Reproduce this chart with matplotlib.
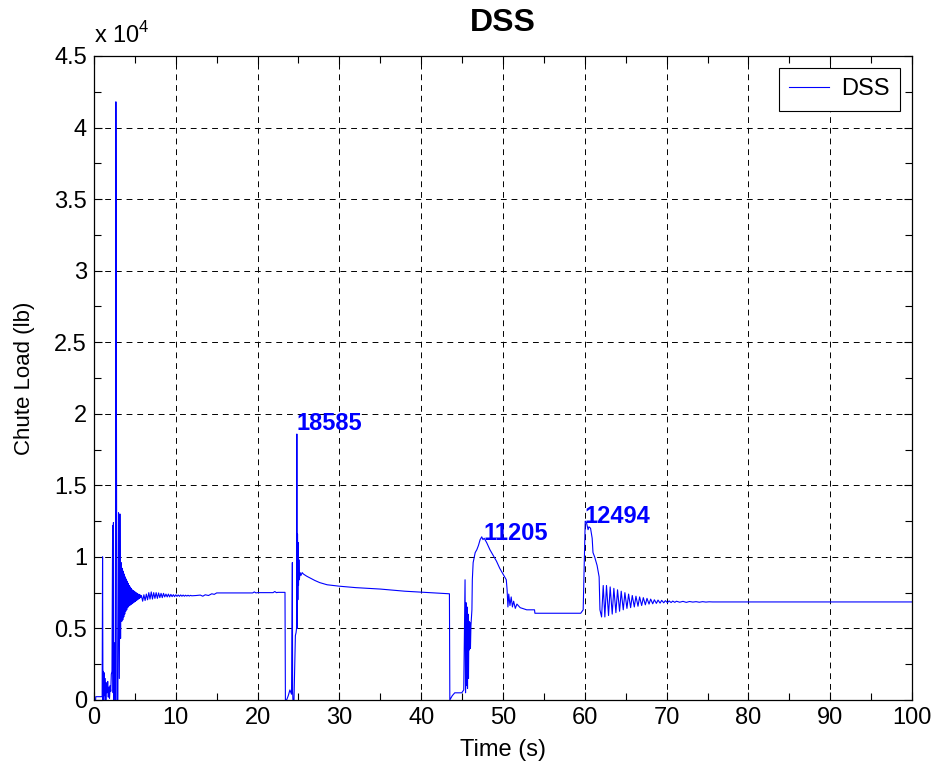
import numpy as np
import matplotlib
matplotlib.use('Agg')
import matplotlib.pyplot as plt
from matplotlib.ticker import MultipleLocator, FuncFormatter

plt.rcParams['font.family'] = ['Liberation Sans', 'DejaVu Sans']
plt.rcParams['mathtext.fontset'] = 'custom'
plt.rcParams['mathtext.rm'] = 'Liberation Sans'

# --- data: time (s), chute load (lb) ---
# first opening, 0 - 12 s
t_open1 = [0.0, 0.2, 0.22, 1.0, 1.05, 1.1, 1.15, 1.2, 1.25, 1.3, 1.38, 1.45, 1.52, 1.6,
           1.68, 1.75, 1.82, 1.9, 1.98, 2.05, 2.12, 2.2, 2.28, 2.34, 2.38, 2.42, 2.46,
           2.5, 2.56, 2.62, 2.68, 2.72, 2.8, 2.92, 3.0, 3.1, 3.17, 3.25, 3.32, 3.4]
load_open1 = [0, 0, 230, 230, 10000, 0, 2000, 0, 1900, 300, 1500, 0, 1200, 500,
              1300, 200, 900, 100, 1000, 600, 1800, 2000, 12200, 500, 12400, 0, 3000,
              1000, 4000, 0, 41800, 30000, 0, 0, 13100, 1500, 13000, 4300, 9600, 5500]

t_ring1 = [3.46, 3.52, 3.58, 3.64, 3.70, 3.76, 3.82, 3.88, 3.94, 4.00, 4.06, 4.12, 4.18,
           4.24, 4.30, 4.36, 4.42, 4.48, 4.54, 4.60, 4.66, 4.72, 4.78, 4.84, 4.90, 4.96,
           5.02, 5.08, 5.14, 5.20, 5.26, 5.32, 5.38, 5.44, 5.50, 5.56, 5.62, 5.70, 5.80,
           5.95, 6.10, 6.25, 6.40, 6.55, 6.70, 6.85, 7.00, 7.15, 7.30, 7.45, 7.60, 7.75,
           7.90, 8.05, 8.20, 8.35, 8.50, 8.65, 8.80, 8.95, 9.10, 9.25, 9.40, 9.55, 9.70,
           9.85, 10.0, 10.15, 10.3, 10.45, 10.6, 10.75, 10.9, 11.05, 11.2, 11.35, 11.5,
           11.65, 11.8, 11.95]
load_ring1 = [9200, 5600, 9000, 5800, 8800, 6000, 8600, 6200, 8450, 6300, 8300, 6450, 8150,
              6550, 8000, 6600, 7900, 6650, 7800, 6700, 7700, 6750, 7650, 6800, 7600, 6850,
              7550, 6900, 7500, 6950, 7450, 7000, 7400, 7050, 7380, 7100, 7350, 7150, 7300,
              6900, 7350, 6950, 7400, 7000, 7500, 7050, 7550, 7050, 7500, 7100, 7500, 7100,
              7480, 7150, 7450, 7150, 7450, 7200, 7400, 7200, 7400, 7200, 7380, 7220, 7360,
              7220, 7350, 7240, 7340, 7240, 7340, 7250, 7330, 7250, 7320, 7260, 7320, 7260,
              7310, 7280]

t_flat1 = [12.5, 13.0, 13.3, 13.6, 14.0, 14.4, 14.7, 15.0, 19.4, 19.6, 19.8, 20.0, 21.9,
           22.1, 22.3, 22.5, 23.35]
load_flat1 = [7300, 7330, 7250, 7350, 7300, 7420, 7380, 7480, 7480, 7550, 7480, 7500, 7500,
              7580, 7500, 7520, 7520]

# second opening, 23.4 - 43.5 s
t_open2 = [23.40, 23.55, 23.75, 23.95, 24.15, 24.25, 24.28, 24.32, 24.45, 24.55, 24.62,
           24.70, 24.76, 24.80, 24.84, 24.88, 24.92, 24.96, 25.00, 25.05, 25.10, 25.20,
           25.30, 25.45, 25.6, 26.0, 26.5, 27.0, 27.6, 28.5, 30.0, 32.0, 35.0, 38.0,
           41.0, 43.45]
load_open2 = [0, 0, 300, 700, 400, 9600, 600, 0, 0, 2500, 4500, 4700, 5000, 18585, 5000,
              11600, 7000, 11000, 8000, 9800, 8400, 8900, 8700, 8900, 8800, 8650, 8500,
              8350, 8200, 8050, 7950, 7850, 7750, 7600, 7500, 7420]

# third opening, 43.5 - 60 s
t_open3 = [43.5, 43.8, 44.1, 44.95, 45.2, 45.36, 45.42, 45.48, 45.54, 45.60, 45.66, 45.72,
           45.78, 45.84, 45.90, 45.96, 46.02, 46.08, 46.2, 46.25, 46.35, 46.6, 46.8, 47.0,
           47.2, 47.4, 47.55, 47.7, 48.0, 48.4, 48.8, 49.2, 49.6, 50.0, 50.4, 50.5, 50.6,
           50.7, 50.85, 51.0, 51.15, 51.3, 51.5, 51.7, 52.1, 52.9, 53.85, 53.9, 59.5,
           59.8]
load_open3 = [0, 300, 500, 500, 700, 8400, 500, 6800, 1000, 6500, 800, 6000, 1500, 5500,
              3500, 5400, 3600, 5200, 6300, 8400, 9600, 10300, 10500, 10800, 11200, 11400,
              11205, 11300, 11000, 10500, 10100, 9700, 9200, 8800, 8400, 7700, 6500, 7400,
              6600, 7200, 6500, 6900, 6400, 6700, 6450, 6300, 6300, 6060, 6060, 6300]

# fourth opening, 60 - 100 s
t_open4 = [59.95, 60.05, 60.2, 60.4, 60.5, 60.7, 60.9, 61.0, 61.2, 61.5, 61.75, 61.85,
           62.05, 62.25, 62.45, 62.65, 62.9, 63.1, 63.35, 63.55, 63.8, 64.0, 64.25, 64.45,
           64.7, 64.9, 65.15, 65.35, 65.6, 65.8, 66.05, 66.25, 66.5, 66.7, 66.95, 67.15,
           67.4, 67.6, 67.85, 68.05, 68.3, 68.5, 68.75, 68.95, 69.2, 69.4, 69.65, 69.85,
           70.1, 70.3, 70.55, 70.75, 71.0, 71.2, 71.6, 72.0, 72.4, 72.8, 73.2, 73.6, 74.0,
           74.4, 74.8, 75.2, 75.6, 76.0, 100.0]
load_open4 = [10100, 12494, 12400, 11900, 12100, 12000, 11300, 10300, 10000, 9400, 8600,
              6300, 5800, 8000, 5800, 8000, 5900, 7900, 6000, 7800, 6100, 7700, 6200, 7600,
              6300, 7500, 6400, 7400, 6450, 7300, 6500, 7250, 6550, 7200, 6600, 7150, 6650,
              7100, 6700, 7050, 6720, 7000, 6750, 6980, 6770, 6960, 6790, 6940, 6800, 6920,
              6810, 6910, 6820, 6900, 6830, 6890, 6820, 6880, 6840, 6870, 6830, 6870, 6840,
              6860, 6850, 6850, 6850]

# numbers written on the peaks
peak_labels = ['18585', '11205', '12494']
peak_x = [24.75, 47.6, 60.0]
peak_y = [19300, 11600, 12850]

t = np.concatenate([t_open1, t_ring1, t_flat1, t_open2, t_open3, t_open4])
load = np.concatenate([load_open1, load_ring1, load_flat1, load_open2, load_open3, load_open4])

fig = plt.figure(figsize=(9.36, 7.66), dpi=100)
ax = fig.add_axes([0.1004, 0.0862, 0.8740, 0.8407])

ax.plot(t, load, color='#0000ff', linewidth=0.8, label='DSS')

for txt, px, py in zip(peak_labels, peak_x, peak_y):
    ax.text(px, py, txt, color='#0000ff', fontsize=17, fontweight='bold',
            ha='left', va='center')

ax.set_xlim(0, 100)
ax.set_ylim(0, 45000)
ax.xaxis.set_major_locator(MultipleLocator(10))
ax.xaxis.set_minor_locator(MultipleLocator(5))
ax.yaxis.set_major_locator(MultipleLocator(5000))
ax.yaxis.set_minor_locator(MultipleLocator(2500))
ax.yaxis.set_major_formatter(FuncFormatter(lambda v, p: '%g' % (v / 1e4)))

ax.grid(True, which='major', color='k', linestyle=(0, (6, 5)), linewidth=0.7)
ax.tick_params(which='both', direction='in', top=True, right=True, labelsize=17,
               width=0.8, pad=5)
ax.tick_params(which='major', length=6)
ax.tick_params(which='minor', length=5)
for s in ax.spines.values():
    s.set_linewidth(0.9)

ax.text(0.0, 1.013, r'x 10$^{4}$', transform=ax.transAxes, fontsize=17,
        ha='left', va='bottom')

ax.set_title('DSS', fontsize=23, fontweight='bold', pad=18)
ax.set_xlabel('Time (s)', fontsize=17, labelpad=7)
ax.set_ylabel('Chute Load (lb)', fontsize=16, labelpad=14)

leg = ax.legend(loc='upper right', fontsize=17, fancybox=False, framealpha=1,
                edgecolor='k', borderaxespad=0.5, handlelength=1.7,
                borderpad=0.45, handletextpad=0.5)
leg.get_frame().set_linewidth(0.8)

fig.savefig('out.png', dpi=100)
